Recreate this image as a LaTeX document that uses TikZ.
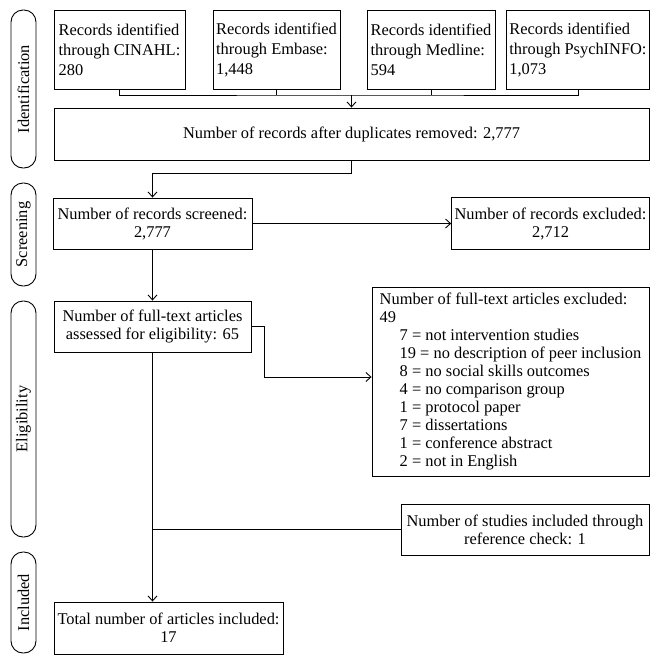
\documentclass[tikz,border=0pt]{standalone}
\usepackage{fontspec}
\setmainfont{Liberation Serif}
\usetikzlibrary{calc,arrows.meta}

\tikzset{
    box/.style={draw,line width=0.9pt,inner xsep=3pt,inner ysep=0pt,align=center},
    srcbox/.style={box,align=left,minimum height=79pt,font=\fontsize{16.4}{20}\selectfont},
    stage/.style={draw,line width=0.9pt,rounded corners=12pt,rotate=90,minimum height=25pt,inner sep=0pt},
    flow/.style={line width=0.9pt}
}

\begin{document}
\begin{tikzpicture}[x=1pt,y=-1pt,font=\fontsize{16.4}{18}\selectfont,>={Straight Barb[length=5pt,width=9pt]}]
            \useasboundingbox (0,0) rectangle (660,665);

            % stages
            \node[stage,minimum width=158pt] (ident) at (23.5,89){Identification};
            \node[stage,minimum width=103pt] (screen) at (23.5,234.5){Screening};
            \node[stage,minimum width=236pt] (elig) at (23.5,419){Eligibility};
            \node[stage,minimum width=101pt] (incl) at (23.5,602.5){Included};

            % sources
            \node[srcbox,minimum width=131pt] (cinahl) at (119.5,49.5){Records identified\\through CINAHL:\\280};
            \node[srcbox,minimum width=127pt] (embase) at (276.5,49.5){Records identified\\through Embase:\\1,448};
            \node[srcbox,minimum width=128pt] (medline) at (431,49.5){Records identified\\through Medline:\\594};
            \node[srcbox,minimum width=142pt] (psych) at (578,49.5){Records identified\\through PsychINFO:\\1,073};

            \node[box,minimum width=595pt,minimum height=52pt] (dup) at (351.5,134){Number of records after duplicates removed: 2,777};

            \node[box,minimum width=199pt,minimum height=51pt] (screened) at (152.5,223.5){Number of records screened:\\2,777};
            \node[box,minimum width=197pt,minimum height=52pt] (excl) at (550.5,223.5){Number of records excluded:\\2,712};

            \node[box,minimum width=197pt,minimum height=51pt] (assessed) at (152.5,326.5){Number of full-text articles\\assessed for eligibility: 65};
            \node[box,align=left,minimum width=277pt,minimum height=189pt] (fulltext) at (510.5,381.5){Number of full-text articles excluded:\\49\\
                \hspace*{20pt}7 = not intervention studies\\
                \hspace*{20pt}19 = no description of peer inclusion\\
                \hspace*{20pt}8 = no social skills outcomes\\
                \hspace*{20pt}4 = no comparison group\\
                \hspace*{20pt}1 = protocol paper\\
                \hspace*{20pt}7 = dissertations\\
                \hspace*{20pt}1 = conference abstract\\
                \hspace*{20pt}2 = not in English};

            \node[box,minimum width=248pt,minimum height=51pt] (refcheck) at (525,529.5){Number of studies included through\\reference check: 1};
            \node[box,minimum width=229pt,minimum height=52pt] (total) at (168.5,628){Total number of articles included:\\17};

            % connectors
            \coordinate (bus) at (351.5,95);
            \draw[flow] (cinahl.south) |- (bus) -| (psych.south);
            \draw[flow] (embase.south) -- (embase.south |- bus);
            \draw[flow] (medline.south) -- (medline.south |- bus);
            \draw[flow,->] (bus) -- (dup.north);
            \draw[flow,->] (dup.south) -- ++(0,13) -| (screened.north);
            \draw[flow,->] (screened.east) -- (screened.east -| excl.west);
            \draw[flow,->] (screened.south) -- (assessed.north);
            \draw[flow,->] (assessed.east) -- ++(13,0) |- ($(fulltext.west)+(0,-4.5)$);
            \draw[flow,->] (assessed.south) -- (assessed.south |- total.north);
            \draw[flow] (refcheck.west) -- (refcheck.west -| assessed.south);
        \end{tikzpicture}
\end{document}
